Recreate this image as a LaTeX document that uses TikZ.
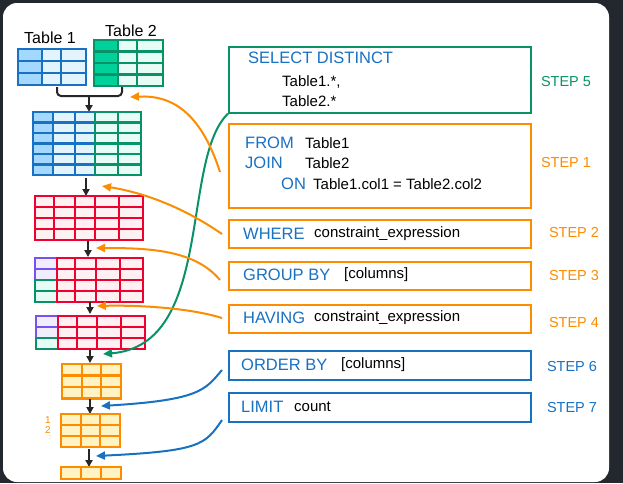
\documentclass[tikz,border=0pt]{standalone}
\usepackage{fontspec}
\setmainfont{Liberation Sans}
\usetikzlibrary{arrows.meta}
\definecolor{bg}{HTML}{23272E}
\definecolor{cblue}{HTML}{1971C2}
\definecolor{cbluef}{HTML}{A5D8FF}
\definecolor{cbluel}{HTML}{E3F4FD}
\definecolor{cgreen}{HTML}{099268}
\definecolor{cgreenf}{HTML}{00D09A}
\definecolor{cgreenl}{HTML}{E6FCF5}
\definecolor{cred}{HTML}{F0002F}
\definecolor{credl}{HTML}{FFF0F2}
\definecolor{cpur}{HTML}{7950F2}
\definecolor{cpurl}{HTML}{F0EEFE}
\definecolor{corg}{HTML}{FD8C00}
\definecolor{corgl}{HTML}{FFF3C4}
\newcommand{\tgrid}[6]{% xlist, y0, dy, nrows, stroke, fill
  \foreach \xa/\xb in {#1}{\foreach \r in {1,...,#4}{
    \pgfmathsetmacro{\ya}{#2+(\r-1)*#3}\pgfmathsetmacro{\yb}{#2+\r*#3}
    \draw[line width=2.2pt,draw=#5,fill=#6] (\xa,\ya) rectangle (\xb,\yb);}}}
\tikzset{
  flow/.style={line width=1.8pt,black!85,-{Triangle[length=7pt,width=7pt]}},
  box/.style={line width=1.6pt,minimum width=302pt,anchor=north west,inner sep=0pt},
  kw/.style={text=cblue,font=\fontsize{16.5}{16.5}\selectfont,anchor=west,inner sep=0pt},
  tx/.style={text=black,font=\fontsize{15}{15}\selectfont,anchor=west,inner sep=0pt},
  steplab/.style={font=\fontsize{14.5}{14.5}\selectfont,inner sep=0pt},
  curv/.style={line width=2pt,-{Triangle[length=9pt,width=8pt]}},
  lab/.style={font=\fontsize{16}{16}\selectfont,inner sep=0pt}
}
\begin{document}
\begin{tikzpicture}[x=1pt,y=-1pt]
\fill[bg] (0,0) rectangle (623,483);
\fill[white,rounded corners=14pt] (3,3) rectangle (609,482);
\useasboundingbox (0,0) rectangle (623,483);
% Table 1 and 2
\node[lab] (t1) at (50,38) {Table 1};
\node[lab] (t2) at (131,31) {Table 2};
\tgrid{18/42}{49}{12}{3}{cblue}{cbluef}
\tgrid{42/61,61/86}{49}{12}{3}{cblue}{cbluel}
\tgrid{94/118}{40}{11.5}{4}{cgreen}{cgreenf}
\tgrid{118/137,137/163}{40}{11.5}{4}{cgreen}{cgreenl}
\coordinate (b1) at (57,87); \coordinate (b2) at (122,87);
\coordinate (bm) at (89,96); \coordinate (j) at (89,112);
\draw[line width=2pt,black!85,rounded corners=4pt] (b1) -- (57,96) -- (122,96) -- (b2);
\draw[flow] (bm) -- (j);
% joined
\tgrid{33/53}{112}{10.5}{6}{cblue}{cbluef}
\tgrid{53/75,75/95}{112}{10.5}{6}{cblue}{cbluel}
\tgrid{95/118,118/141}{112}{10.5}{6}{cgreen}{cgreenl}
\coordinate (a1) at (86,178); \coordinate (a1e) at (86,196);
\draw[flow] (a1) -- (a1e);
% where
\tgrid{35/54,54/75,75/95,95/119,119/143}{196}{11}{4}{cred}{credl}
\coordinate (a2) at (88,241); \coordinate (a2e) at (88,257);
\draw[flow] (a2) -- (a2e);
% group by
\tgrid{35/57}{258}{11}{2}{cpur}{cpurl}
\tgrid{35/57}{280}{11}{2}{cgreen}{cgreenl}
\tgrid{57/75,75/96,96/120,120/143}{258}{11}{4}{cred}{credl}
\coordinate (a3) at (90,302); \coordinate (a3e) at (90,314);
\draw[flow] (a3) -- (a3e);
% having
\tgrid{36/58}{316}{11}{2}{cpur}{cpurl}
\tgrid{36/58}{338}{11}{1}{cgreen}{cgreenl}
\tgrid{58/77,77/97,97/121,121/145}{316}{11}{3}{cred}{credl}
\coordinate (a4) at (90,350); \coordinate (a4e) at (90,363);
\draw[flow] (a4) -- (a4e);
% select
\tgrid{62/82,82/101,101/121}{364}{11.5}{3}{corg}{corgl}
\coordinate (a5) at (90,399); \coordinate (a5e) at (90,414);
\draw[flow] (a5) -- (a5e);
\tgrid{61/81,81/100,100/120}{414}{11}{3}{corg}{corgl}
\node[text=corg,font=\fontsize{10}{10}\selectfont,inner sep=0pt] (n1) at (48,420) {1};
\node[text=corg,font=\fontsize{10}{10}\selectfont,inner sep=0pt] (n2) at (48,430) {2};
\node[text=corg,font=\fontsize{7}{7}\selectfont,inner sep=0pt] (n3) at (50,438) {:};
\coordinate (a6) at (89,449); \coordinate (a6e) at (89,467);
\draw[flow] (a6) -- (a6e);
\tgrid{61/81,81/101,101/121}{467}{12}{1}{corg}{corgl}
% right boxes
\node[box,draw=cgreen,minimum height=66pt] (sel) at (228,46) {};
\node[kw] (k1) at (248,58) {SELECT DISTINCT};
\node[tx] (x1a) at (282,82) {Table1.*,};
\node[tx] (x1b) at (282,101) {Table2.*};
\node[steplab,text=cgreen] (s5) at (566,82) {STEP 5};
\node[box,draw=corg,minimum height=84pt] (from) at (228,123) {};
\node[kw] at (245,143) {FROM}; \node[tx] at (305,143) {Table1};
\node[kw] at (245,163) {JOIN}; \node[tx] at (305,163) {Table2};
\node[kw] at (281,184) {ON}; \node[tx] at (313,184) {Table1.col1 = Table2.col2};
\node[steplab,text=corg] (s1) at (566,163) {STEP 1};
\node[box,draw=corg,minimum height=28pt] (where) at (228,219) {};
\node[kw] at (243,234) {WHERE}; \node[tx] at (314,234) {constraint\_expression};
\node[steplab,text=corg] (s2) at (574,233) {STEP 2};
\node[box,draw=corg,minimum height=28pt] (grp) at (228,261) {};
\node[kw] at (243,275) {GROUP BY}; \node[tx] at (344,275) {[columns]};
\node[steplab,text=corg] (s3) at (574,275) {STEP 3};
\node[box,draw=corg,minimum height=28pt] (hav) at (228,304) {};
\node[kw] at (243,318) {HAVING}; \node[tx] at (314,318) {constraint\_expression};
\node[steplab,text=corg] (s4) at (574,322) {STEP 4};
\node[box,draw=cblue,minimum height=29pt] (ord) at (228,350) {};
\node[kw] at (241,365) {ORDER BY}; \node[tx] at (341,365) {[columns]};
\node[steplab,text=cblue] (s6) at (572,366) {STEP 6};
\node[box,draw=cblue,minimum height=29pt] (lim) at (228,392) {};
\node[kw] at (241,407) {LIMIT}; \node[tx] at (294,407) {count};
\node[steplab,text=cblue] (s7) at (572,407) {STEP 7};
% curved arrows
\coordinate (c5) at (103,354); \coordinate (c1) at (130,97);
\coordinate (c2) at (102,186); \coordinate (c3) at (96,248);
\coordinate (c4) at (97,306); \coordinate (c6) at (101,406);
\coordinate (c7) at (96,456);
\draw[curv,cgreen] (sel.south west) .. controls (180,160) and (215,345) .. (c5);
\draw[curv,corg] (220,172) .. controls (200,110) and (170,95) .. (c1);
\draw[curv,corg] (222,234) .. controls (180,205) and (140,192) .. (c2);
\draw[curv,corg] (220,280) .. controls (195,250) and (150,248) .. (c3);
\draw[curv,corg] (222,318) .. controls (190,308) and (140,305) .. (c4);
\draw[curv,cblue] (222,370) .. controls (205,390) and (200,400) .. (c6);
\draw[curv,cblue] (222,420) .. controls (205,445) and (200,451) .. (c7);
\end{tikzpicture}
\end{document}
